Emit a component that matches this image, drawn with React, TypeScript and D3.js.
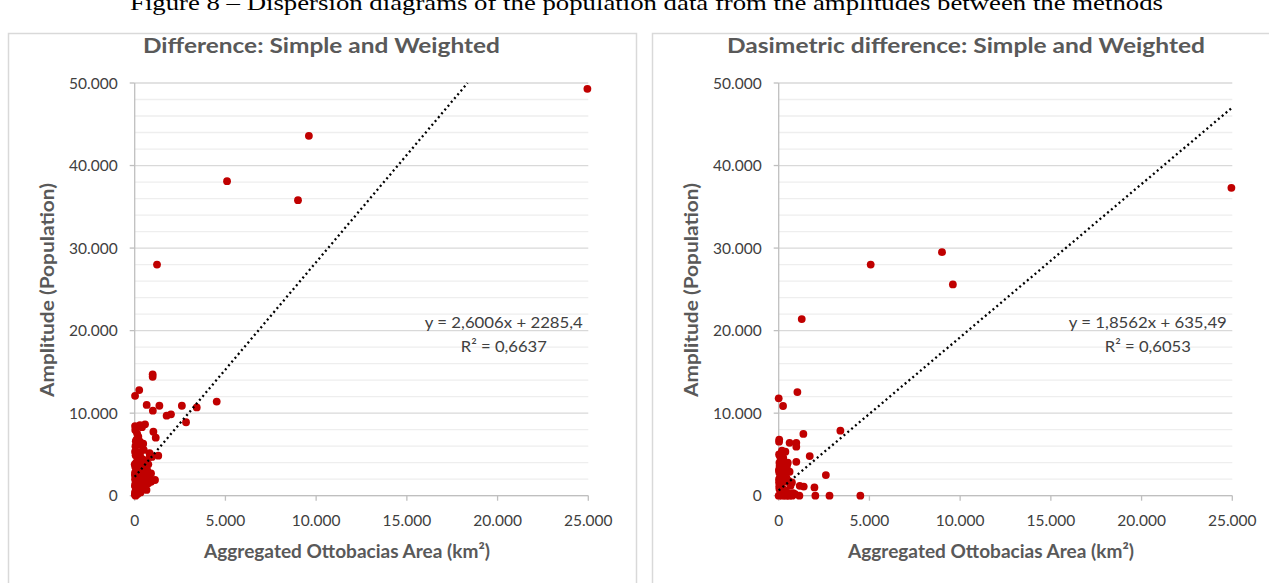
import React from "react";
import * as d3 from "d3";

const caption = "Figure 8 – Dispersion diagrams of the population data from the amplitudes between the methods";
const titles = ["Difference: Simple and Weighted", "Dasimetric difference: Simple and Weighted"];
const xAxisTitle = "Aggregated Ottobacias Area (km²)";
const yAxisTitle = "Amplitude (Population)";
const xTicks = [0, 5000, 10000, 15000, 20000, 25000];
const yTicks = [0, 10000, 20000, 30000, 40000, 50000];
const yMinorTicks = d3.range(0, 50001, 2000);

// Left chart: Difference Simple vs Weighted
const leftX = [
  24950, 9600, 5090, 9000, 1230, 990, 990, 250, 20,
  660, 1360, 1000, 2600, 3420, 4520, 1760, 2000, 2830,
  20, 290, 570, 400, 30, 130, 200, 1030, 1160, 290, 100, 350,
  20, 500, 820, 840, 1300, 1120, 20,
  50, 150, 300, 450, 600, 80, 200, 350, 500, 650, 30, 100, 250, 400, 550, 700,
  20, 120, 220, 330, 450, 600, 750, 20, 80, 180, 280, 380, 500, 650,
  10, 60, 140, 220, 320, 30, 90, 160, 10, 50, 700, 800, 900, 600, 750, 850,
  950, 40, 60, 150, 100, 900, 300, 470, 0, 10, 40, 70
];
const leftY = [
  49300, 43600, 38100, 35800, 28000, 14700, 14400, 12800, 12100,
  11000, 10900, 10300, 10900, 10700, 11400, 9700, 9860, 8900,
  8440, 8560, 8650, 8300, 7960, 7560, 7150, 7750, 7030, 6540, 6800, 6200,
  5330, 5540, 5140, 4720, 4850, 1900, 300,
  4900, 4600, 4800, 4400, 4200, 4000, 3900, 3700, 3500, 3300, 3500, 3200, 3100, 2900, 2700, 2500,
  2800, 2600, 2300, 2100, 1900, 1700, 1500, 2000, 1800, 1500, 1300, 1100, 900, 700,
  1200, 1000, 800, 600, 400, 500, 300, 200, 100, 0, 3000, 2200, 2700, 4000, 3800, 5000,
  4700, 6000, 6600, 3000, 2200, 1700, 5300, 6300, 3800, 2500, 1500, 700
];

// Right chart: Dasimetric difference Simple vs Weighted
const rightX = [
  24950, 5070, 9000, 9600, 1270, 0, 1030, 240, 1360, 3400,
  20, 30, 600, 970, 970, 180, 370, 1710, 100, 200, 970, 350, 2600, 730, 1160, 1380, 1970,
  0, 100, 200, 300, 400, 500, 600, 750, 1140, 2020, 2800, 4500,
  20, 80, 150, 250, 50, 120, 220, 320, 30, 90, 180, 280, 400, 20, 70, 150, 250, 350,
  40, 110, 200, 500, 450, 600, 20, 40, 60, 10, 30, 100, 300, 500, 800, 900, 650, 420, 550, 460
];
const rightY = [
  37300, 28000, 29500, 25600, 21400, 11800, 12560, 10870, 7480, 7880,
  6550, 6800, 6400, 6400, 5940, 5450, 5330, 4800, 4600, 4100, 4100, 3800, 2500, 1600, 1200, 1100, 1000,
  0, 50, 0, 30, 0, 20, 0, 0, 0, 0, 0, 0,
  5000, 4800, 5200, 4600, 3500, 3300, 3000, 2700, 2800, 2400, 2100, 1900, 1700, 1600, 1300, 1000, 800, 600,
  800, 500, 300, 4000, 3200, 2900, 2000, 4000, 3700, 3100, 1100, 200, 100, 350, 300, 200, 1200, 2200, 1800, 3700
];

const equations = [
  { slope: 2.6006, intercept: 2285.4, eq: "y = 2,6006x + 2285,4", r2: "R² = 0,6637" },
  { slope: 1.8562, intercept: 635.49, eq: "y = 1,8562x + 635,49", r2: "R² = 0,6053" },
];

const fmt = (v: number) => (v === 0 ? "0" : d3.format(",")(v).replace(/,/g, "."));

const FONT = "Lato, 'Open Sans', sans-serif";
const titleWidths = [357, 478];

function Panel({ idx, offsetX, title, xs, ys, eqn }: { idx: number; offsetX: number; title: string; xs: number[]; ys: number[]; eqn: typeof equations[0] }) {
  const x = d3.scaleLinear().domain([0, 25000]).range([134.7 + offsetX, 588.3 + offsetX]);
  const y = d3.scaleLinear().domain([0, 50000]).range([495.7, 83]);
  const [x0, x1] = x.range();
  const tEndX = Math.min(25000, (50000 - eqn.intercept) / eqn.slope);
  const line = d3.line<[number, number]>().x((d) => x(d[0])).y((d) => y(d[1]));
  const trend: [number, number][] = [
    [0, eqn.intercept],
    [tEndX, eqn.slope * tEndX + eqn.intercept],
  ];
  const panelLeft = 8 + offsetX;
  const eqRight = x(24700);
  return (
    <g>
      <rect x={panelLeft + 0.5} y={33.5} width={628} height={560} fill="#fff" stroke="#d9d9d9" strokeWidth={1.5} />
      <text x={idx === 0 ? 143 : 727} y={53} fontFamily={FONT} fontWeight={700} fontSize={21} fill="#595959" textLength={titleWidths[idx]} lengthAdjust="spacingAndGlyphs">
        {title}
      </text>
      {yMinorTicks.map((t) => (
        <line key={"m" + t} x1={x0} x2={x1} y1={y(t)} y2={y(t)} stroke={t % 10000 === 0 ? "#d9d9d9" : "#eeeeee"} strokeWidth={1.3} />
      ))}
      <line x1={x0} x2={x0} y1={y(50000)} y2={y(0)} stroke="#bfbfbf" strokeWidth={1.3} />
      <line x1={x0} x2={x1} y1={y(0)} y2={y(0)} stroke="#bfbfbf" strokeWidth={1.3} />
      {yTicks.map((t) => (
        <g key={"y" + t}>
          <line x1={x0 - 5} x2={x0} y1={y(t)} y2={y(t)} stroke="#bfbfbf" strokeWidth={1.3} />
          <text x={x0 - 17} y={y(t) + 5.5} textAnchor="end" fontFamily={FONT} fontSize={15.5} fill="#404040">
            {fmt(t)}
          </text>
        </g>
      ))}
      {xTicks.map((t) => (
        <g key={"x" + t}>
          <line x1={x(t)} x2={x(t)} y1={y(0)} y2={y(0) + 5} stroke="#bfbfbf" strokeWidth={1.3} />
          <text x={x(t)} y={y(0) + 30} textAnchor="middle" fontFamily={FONT} fontSize={15.5} fill="#404040">
            {fmt(t)}
          </text>
        </g>
      ))}
      <text x={204 + offsetX} y={558} fontFamily={FONT} fontWeight={700} fontSize={19} fill="#595959" textLength={286} lengthAdjust="spacingAndGlyphs">
        {xAxisTitle}
      </text>
      <text transform={`translate(${54 + offsetX},${397}) rotate(-90)`} fontFamily={FONT} fontWeight={700} fontSize={19} fill="#595959" textLength={214} lengthAdjust="spacingAndGlyphs">
        {yAxisTitle}
      </text>
      {xs.map((v, i) => (
        <circle key={"p" + i} cx={x(v)} cy={y(ys[i])} r={3.9} fill="#c00000" />
      ))}
      <path d={line(trend) || ""} fill="none" stroke="#000" strokeWidth={2.3} strokeDasharray="2 3" />
      <text x={eqRight} y={328} textAnchor="end" fontFamily={FONT} fontSize={15.5} fill="#404040" textLength={158} lengthAdjust="spacingAndGlyphs">
        {eqn.eq}
      </text>
      <text x={eqRight - 79} y={352} textAnchor="middle" fontFamily={FONT} fontSize={16} fill="#404040" textLength={86} lengthAdjust="spacingAndGlyphs">
        {eqn.r2}
      </text>
    </g>
  );
}

export default function App() {
  return (
    <svg width={1269} height={583} style={{ position: "absolute", left: 0, top: 0, background: "#fff" }}>
      <rect x={0} y={0} width={1269} height={583} fill="#fff" />
      <text x={130} y={10} fontFamily="'Liberation Serif', 'Times New Roman', serif" fontSize={22} fill="#000" textLength={1033} lengthAdjust="spacingAndGlyphs">
        {caption}
      </text>
      <Panel idx={0} offsetX={0} title={titles[0]} xs={leftX} ys={leftY} eqn={equations[0]} />
      <Panel idx={1} offsetX={644} title={titles[1]} xs={rightX} ys={rightY} eqn={equations[1]} />
    </svg>
  );
}
